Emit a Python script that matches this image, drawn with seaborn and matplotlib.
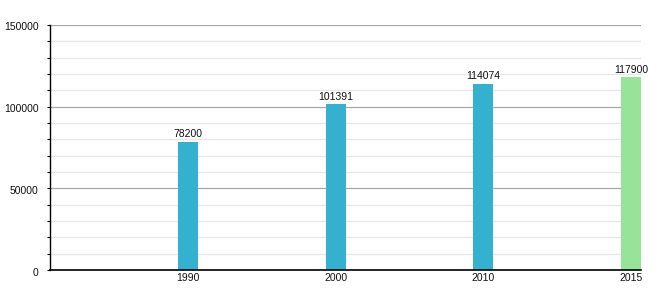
import matplotlib
matplotlib.use("Agg")
import matplotlib.pyplot as plt
import seaborn as sns
import pandas as pd
from matplotlib.ticker import MultipleLocator
from matplotlib.transforms import ScaledTranslation

years = ["1990", "2000", "2010", "2015"]
values = [78200, 101391, 114074, 117900]
colors = ["#34b1cf", "#34b1cf", "#34b1cf", "#98e39a"]

sns.set_theme(style="white")
plt.rcParams["font.family"] = ["Liberation Sans", "DejaVu Sans"]

df = pd.DataFrame({"year": years, "value": values})

fig = plt.figure(figsize=(6.6, 3.0), dpi=100)
ax = fig.add_axes([50/660, 30/300, (641-50)/660, (270-25)/300])

bw = 20 / 147.75
sns.barplot(data=df, x="year", y="value", hue="year", palette=colors, order=years,
            width=bw, legend=False, ax=ax, saturation=1, linewidth=0)

ax.set_xlim(-1 + bw/2, 3 + bw/2)
ax.set_ylim(0, 150000)
ax.yaxis.set_major_locator(MultipleLocator(50000))
ax.yaxis.set_minor_locator(MultipleLocator(10000))
ax.grid(which="major", axis="y", color="#a8a8a8", linewidth=0.9)
ax.grid(which="minor", axis="y", color="#e6e6e6", linewidth=0.9)
ax.set_axisbelow(True)

for s in ["top", "right"]:
    ax.spines[s].set_visible(False)
ax.spines["left"].set_color("black")
ax.spines["bottom"].set_color("black")
ax.spines["left"].set_linewidth(1.0)
ax.spines["bottom"].set_linewidth(1.2)

ax.tick_params(axis="y", which="both", left=True, length=2.2, width=0.8, color="black",
               labelsize=7.5, pad=6, labelcolor="#111111")
ax.tick_params(axis="x", bottom=False, length=0, labelsize=7.5, pad=2.5, labelcolor="#111111")
ax.set_xlabel("")
ax.set_ylabel("")

shift = ScaledTranslation(0, -1.5/100, fig.dpi_scale_trans)
for lab in ax.get_yticklabels():
    lab.set_transform(lab.get_transform() + shift)

for i, v in enumerate(values):
    ax.annotate(str(v), (i, v), xytext=(0, 2), textcoords="offset points",
                ha="center", va="bottom", fontsize=7.5, color="#111111")

fig.savefig("out.png", dpi=100)
